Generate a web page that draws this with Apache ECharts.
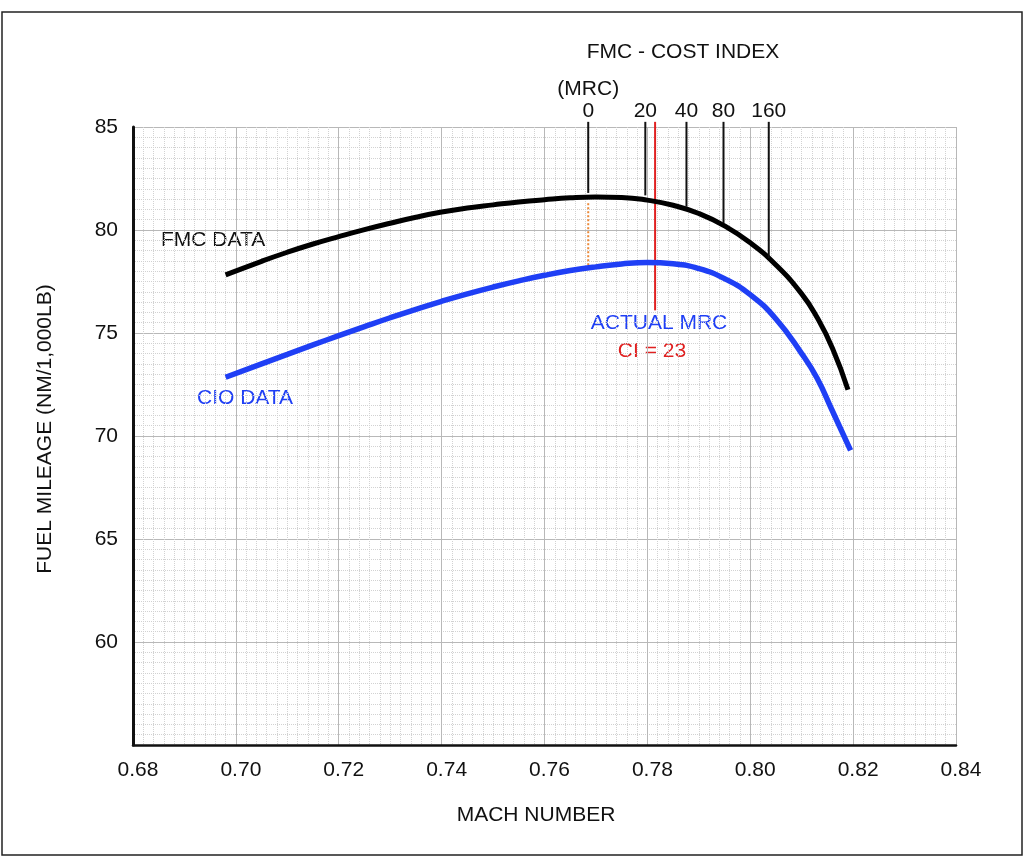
<!DOCTYPE html>
<html>
<head>
    <meta charset="UTF-8">
    <title>Fuel Mileage vs Mach Number</title>
    <script src="https://cdn.jsdelivr.net/npm/echarts@6/dist/echarts.min.js"></script>
    <style>
        html, body { margin: 0; padding: 0; background: #fff; }
        #chart { width: 1024px; height: 857px; }
    </style>
</head>
<body>
<div id="chart"></div>
<script>
    // FMC data curve (black)
    var fmcMach = [0.698, 0.705, 0.71, 0.715, 0.72, 0.725, 0.73, 0.735, 0.74, 0.745, 0.75, 0.755, 0.76, 0.765, 0.77, 0.775, 0.78, 0.785, 0.79, 0.795, 0.80, 0.805, 0.81, 0.813, 0.816, 0.819];
    var fmcMileage = [77.82, 78.48, 78.92, 79.32, 79.68, 80.02, 80.33, 80.62, 80.87, 81.07, 81.22, 81.36, 81.47, 81.56, 81.6, 81.58, 81.45, 81.2, 80.8, 80.2, 79.38, 78.3, 76.9, 75.75, 74.25, 72.25];
    // CIO data curve (blue)
    var cioMach = [0.698, 0.705, 0.71, 0.715, 0.72, 0.725, 0.73, 0.735, 0.74, 0.745, 0.75, 0.755, 0.76, 0.765, 0.77, 0.775, 0.78, 0.785, 0.79, 0.795, 0.80, 0.805, 0.81, 0.813, 0.816, 0.8195];
    var cioMileage = [72.85, 73.5, 73.96, 74.42, 74.87, 75.31, 75.74, 76.15, 76.54, 76.9, 77.23, 77.53, 77.8, 78.03, 78.21, 78.35, 78.42, 78.36, 78.13, 77.64, 76.86, 75.68, 74.0, 72.8, 71.2, 69.3];
    // FMC cost index ticks
    var ciLabels = ['(MRC)\n0', '20', '40', '80', '160'];
    var ciMach = [0.7685, 0.7796, 0.7876, 0.7948, 0.8036];
    var ciTickEnd = [81.8, 81.68, 81.13, 80.34, 78.63];
    var ciTickTop = 85.25;
    // actual MRC (CI = 23) and the MRC drop line
    var actualMach = 0.7815;
    var actualFrom = 85.25, actualTo = 76.1;
    var mrcMach = 0.7685;
    var mrcFrom = 81.3, mrcTo = 78.3;

    var FONT = '"Liberation Sans", Arial, Helvetica, sans-serif';

    function pairs(xs, ys) {
        return xs.map(function (x, i) { return [x, ys[i]]; });
    }

    var tickSeries = ciMach.map(function (m, i) {
        return {
            type: 'line',
            clip: false,
            silent: true,
            symbol: 'none',
            z: 4,
            lineStyle: { color: '#111', width: 2 },
            data: [[m, ciTickTop], [m, ciTickEnd[i]]]
        };
    });

    var chart = echarts.init(document.getElementById('chart'));
    chart.setOption({
        animation: false,
        backgroundColor: '#fff',
        grid: { left: 133, right: 68, top: 127, bottom: 112 },
        xAxis: {
            type: 'value',
            min: 0.68,
            max: 0.84,
            interval: 0.02,
            axisLine: { show: true, onZero: false, lineStyle: { color: '#111', width: 2.5 } },
            axisTick: { show: false },
            axisLabel: {
                margin: 15,
                padding: [0, 0, 0, 10],
                fontFamily: FONT,
                fontSize: 21,
                color: '#111',
                formatter: function (v) { return v.toFixed(2); }
            },
            splitLine: { show: true, lineStyle: { color: '#b8b8b8', width: 1 } },
            minorTick: { show: false, splitNumber: 10 },
            minorSplitLine: { show: true, lineStyle: { color: '#d2d2d2', width: 1, type: 'dotted' } }
        },
        yAxis: {
            type: 'value',
            min: 55,
            max: 85,
            interval: 5,
            axisLine: { show: true, lineStyle: { color: '#111', width: 3 } },
            axisTick: { show: false },
            axisLabel: {
                margin: 15,
                fontFamily: FONT,
                fontSize: 21,
                color: '#111',
                formatter: function (v) { return v === 55 ? '' : String(v); }
            },
            splitLine: { show: true, lineStyle: { color: '#b8b8b8', width: 1 } },
            minorTick: { show: false, splitNumber: 10 },
            minorSplitLine: { show: true, lineStyle: { color: '#d2d2d2', width: 1, type: 'dotted' } }
        },
        series: [
            {
                name: 'Actual MRC',
                type: 'line',
                clip: false,
                silent: true,
                symbol: 'none',
                z: 2,
                lineStyle: { color: '#e02020', width: 2 },
                data: [[actualMach, actualFrom], [actualMach, actualTo]]
            },
            {
                name: 'MRC drop',
                type: 'line',
                silent: true,
                symbol: 'none',
                z: 2,
                lineStyle: { color: '#ec8a3a', width: 2, type: 'dotted' },
                data: [[mrcMach, mrcFrom], [mrcMach, mrcTo]]
            },
            {
                name: 'FMC DATA',
                type: 'line',
                smooth: 0.5,
                smoothMonotone: 'none',
                symbol: 'none',
                z: 3,
                lineStyle: { color: '#000', width: 5 },
                data: pairs(fmcMach, fmcMileage)
            },
            {
                name: 'CIO DATA',
                type: 'line',
                smooth: 0.5,
                smoothMonotone: 'none',
                symbol: 'none',
                z: 3,
                lineStyle: { color: '#1f3ff5', width: 5.5 },
                data: pairs(cioMach, cioMileage)
            },
            {
                name: 'Cost index labels',
                type: 'scatter',
                clip: false,
                silent: true,
                symbolSize: 0,
                z: 5,
                itemStyle: { opacity: 1 },
                data: ciMach.map(function (m) { return [m, ciTickTop]; }),
                label: {
                    show: true,
                    position: 'top',
                    distance: 0,
                    formatter: function (p) { return ciLabels[p.dataIndex]; },
                    fontFamily: FONT,
                    fontSize: 21,
                    lineHeight: 22,
                    color: '#111'
                }
            }
        ].concat(tickSeries),
        graphic: [
            {
                type: 'rect',
                silent: true,
                shape: { x: 2, y: 12, width: 1020, height: 843 },
                style: { fill: 'none', stroke: '#222', lineWidth: 1.5 }
            },
            {
                type: 'text', x: 683, y: 52,
                style: { text: 'FMC - COST INDEX', font: '21px ' + FONT, fill: '#111', textAlign: 'center', textVerticalAlign: 'middle' }
            },
            {
                type: 'text', x: 161, y: 240,
                style: { text: 'FMC DATA', font: '21px ' + FONT, fill: '#111', textAlign: 'left', textVerticalAlign: 'middle' }
            },
            {
                type: 'text', x: 197, y: 398,
                style: { text: 'CIO DATA', font: '21px ' + FONT, fill: '#1f3ff5', textAlign: 'left', textVerticalAlign: 'middle' }
            },
            {
                type: 'text', x: 659, y: 323,
                style: { text: 'ACTUAL MRC', font: '21px ' + FONT, fill: '#1f3ff5', textAlign: 'center', textVerticalAlign: 'middle' }
            },
            {
                type: 'text', x: 652, y: 351,
                style: { text: 'CI = 23', font: '21px ' + FONT, fill: '#e02020', textAlign: 'center', textVerticalAlign: 'middle' }
            },
            {
                type: 'text', x: 536, y: 815,
                style: { text: 'MACH NUMBER', font: '21px ' + FONT, fill: '#111', textAlign: 'center', textVerticalAlign: 'middle' }
            },
            {
                type: 'text', x: 45, y: 429, rotation: Math.PI / 2,
                style: { text: 'FUEL MILEAGE (NM/1,000LB)', font: '21px ' + FONT, fill: '#111', textAlign: 'center', textVerticalAlign: 'middle' }
            }
        ]
    });
</script>
</body>
</html>
